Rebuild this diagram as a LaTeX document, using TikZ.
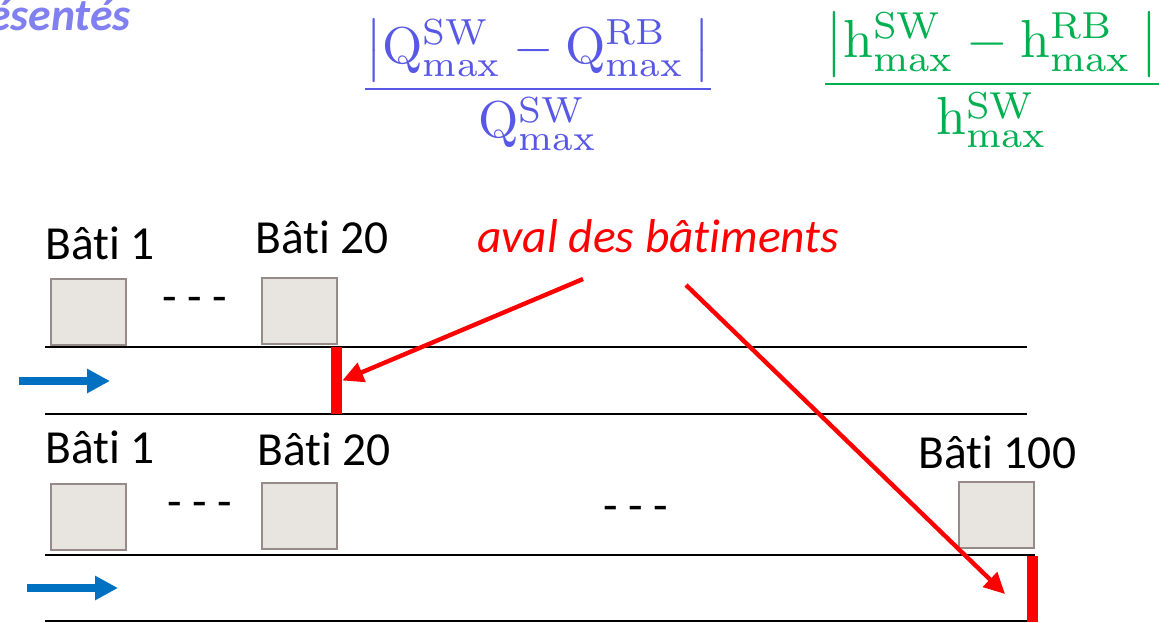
\documentclass[tikz,border=0pt]{standalone}
\usepackage{amsmath}
\usepackage{fontspec}
\newfontfamily\calibri[Ligatures=NoCommon]{Carlito}
\usepackage{tikz}
\usetikzlibrary{arrows.meta}
\usetikzlibrary{calc}
\definecolor{violetQ}{RGB}{88,88,230}
\definecolor{vertH}{RGB}{0,176,80}
\definecolor{violetClair}{RGB}{128,128,240}
\definecolor{bleuFl}{RGB}{0,112,192}
\definecolor{fondBati}{RGB}{232,228,223}
\definecolor{bordBati}{RGB}{150,139,136}
\tikzset{
	bati/.style={draw=bordBati,fill=fondBati,line width=1.2pt,minimum width=1.5cm,minimum height=1.32cm,inner sep=0pt},
	etiq/.style={font=\calibri\fontsize{27}{32}\selectfont,inner sep=0pt,anchor=base west},
	barre/.style={fill=red,minimum width=0.22cm,minimum height=1.34cm,inner sep=0pt},
	rive/.style={line width=1.1pt},
	flux/.style={bleuFl,line width=4pt,-{Triangle[length=0.46cm,width=0.46cm]}},
	fleche/.style={red,line width=2.5pt,-{Triangle[length=0.42cm,width=0.4cm]}}
}

\begin{document}
\begin{tikzpicture}[x=0.02cm,y=-0.02cm]
\useasboundingbox (0,0) rectangle (1175,622);
			% Titre et formules
\node[font=\calibri\bfseries\itshape\fontsize{26}{31}\selectfont,text=violetClair,anchor=base east,inner sep=0pt] (titre) at (131,31) {ésentés};
\node[text=violetQ,scale=2.95] (fq) at (538,85) {$\dfrac{\left|\mathrm{Q}^{\mathrm{SW}}_{\mathrm{max}}-\mathrm{Q}^{\mathrm{RB}}_{\mathrm{max}}\,\right|}{\mathrm{Q}^{\mathrm{SW}}_{\mathrm{max}}}$};
\node[text=vertH,scale=3.05] (fh) at (992,80) {$\dfrac{\left|\mathrm{h}^{\mathrm{SW}}_{\mathrm{max}}-\mathrm{h}^{\mathrm{RB}}_{\mathrm{max}}\,\right|}{\mathrm{h}^{\mathrm{SW}}_{\mathrm{max}}}$};
			% Canal 1
\coordinate (h1g) at (45,347); \coordinate (h1d) at (1027,347);
\coordinate (h2g) at (45,414); \coordinate (h2d) at (1027,414);
\draw[rive] (h1g) -- (h1d);
\draw[rive] (h2g) -- (h2d);
\node[etiq] (lh1) at (45,259) {Bâti 1};
\node[etiq] (lh20) at (255,253) {Bâti 20};
\node[bati] (bh1) at (88.5,312) {};
\node[bati] (bh20) at (299.5,311) {};
\node[etiq,anchor=center] (ph) at (195,305) {- - -};
\node[barre] (rh) at (336.5,380.5) {};
\coordinate (fh1) at (19,381); \coordinate (fh2) at (110,381);
\draw[flux] (fh1) -- (fh2);
			% Canal 2
\coordinate (b1g) at (45,555); \coordinate (b1d) at (1035,555);
\coordinate (b2g) at (45,621); \coordinate (b2d) at (1035,621);
\draw[rive] (b1g) -- (b1d);
\draw[rive] (b2g) -- (b2d);
\node[etiq] (lb1) at (45,463) {Bâti 1};
\node[etiq] (lb20) at (257,465) {Bâti 20};
\node[etiq] (lb100) at (918,468) {Bâti 100};
\node[bati] (bb1) at (88.5,517) {};
\node[bati] (bb20) at (299.5,516) {};
\node[bati] (bb100) at (996.5,515) {};
\node[etiq,anchor=center] (pb1) at (200,510) {- - -};
\node[etiq,anchor=center] (pb2) at (636,514) {- - -};
\node[barre,minimum height=1.32cm] (rb) at (1032.5,589) {};
\coordinate (fb1) at (27,588); \coordinate (fb2) at (118,588);
\draw[flux] (fb1) -- (fb2);
			% Flèches
\node[etiq,font=\calibri\itshape\fontsize{27}{32}\selectfont,text=red] (aval) at (477,252) {aval des bâtiments};
\coordinate (d1) at (583,279); \coordinate (d2) at (686,285);
\coordinate (c2) at (1005,594);
\draw[fleche] (d1) -- (rh.east);
\draw[fleche] (d2) -- (c2);
			\end{tikzpicture}
\end{document}
